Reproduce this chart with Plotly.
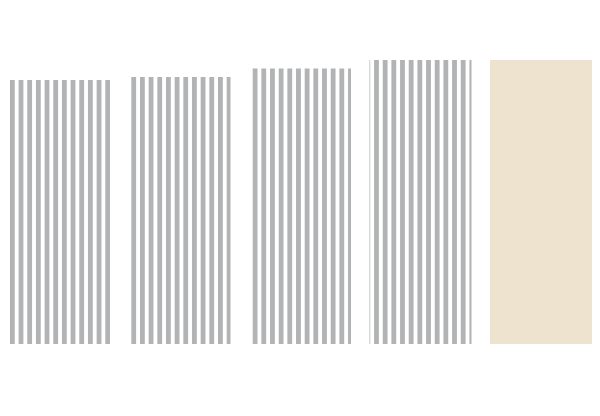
import plotly.graph_objects as go

categories = ["A", "B", "C", "D", "E"]
values = [93, 94, 97, 100, 100]
striped = [True, True, True, True, False]

xs_s = [c for c, s in zip(categories, striped) if s]
ys_s = [v for v, s in zip(values, striped) if s]
xs_p = [c for c, s in zip(categories, striped) if not s]
ys_p = [v for v, s in zip(values, striped) if not s]

fig = go.Figure()
fig.add_trace(go.Bar(
    x=xs_s, y=ys_s,
    marker=dict(
        color="#b2b3b5",
        line=dict(width=0),
        pattern=dict(shape="|", fgcolor="#b2b3b5", bgcolor="#ffffff",
                     size=8.67, solidity=0.55, fillmode="replace"),
    ),
    hoverinfo="skip",
))
fig.add_trace(go.Bar(
    x=xs_p, y=ys_p,
    marker=dict(color="#ede3cf", line=dict(width=0)),
    hoverinfo="skip",
))

fig.update_layout(
    width=600,
    height=416,
    margin=dict(l=0, r=0, t=52, b=80),
    paper_bgcolor="white",
    plot_bgcolor="white",
    barmode="overlay",
    bargap=0.1535,
    showlegend=False,
    xaxis=dict(visible=False, type="category", categoryorder="array",
               categoryarray=categories, range=[-0.4235, 4.556]),
    yaxis=dict(visible=False, range=[0, 100]),
)

fig.write_html("out.html")
